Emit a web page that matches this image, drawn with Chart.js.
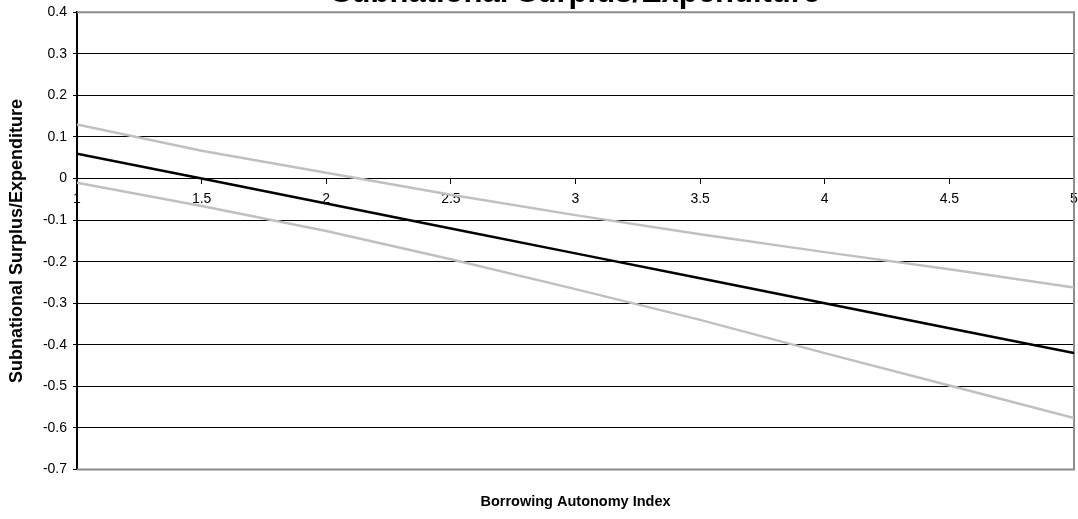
<!DOCTYPE html>
<html>
<head>
<meta charset="utf-8">
<script src="https://cdn.jsdelivr.net/npm/chart.js@4/dist/chart.umd.min.js"></script>
<style>
  html, body { margin: 0; padding: 0; background: #ffffff; }
  #wrap { width: 1078px; height: 519px; position: relative; }
</style>
</head>
<body>
<div id="wrap"><canvas id="c" width="1078" height="519"></canvas></div>
<script>
// Borrowing autonomy index (x) and the fitted surplus/expenditure line with its band
const autonomyIndex  = [1, 1.5, 2, 2.5, 3, 3.5, 4, 4.5, 5];
const fittedSurplus  = [0.06, 0.0, -0.06, -0.12, -0.18, -0.24, -0.30, -0.36, -0.42];
const upperBand      = [0.13, 0.067, 0.014, -0.039, -0.088, -0.134, -0.177, -0.218, -0.262];
const lowerBand      = [-0.01, -0.066, -0.126, -0.194, -0.266, -0.340, -0.420, -0.498, -0.576];

const yTickValues = [0.4, 0.3, 0.2, 0.1, 0, -0.1, -0.2, -0.3, -0.4, -0.5, -0.6, -0.7];
const xTickValues = [1, 1.5, 2, 2.5, 3, 3.5, 4, 4.5, 5];

const chartTitle = 'Subnational Surplus/Expenditure';
const xTitle = 'Borrowing Autonomy Index';
const yTitle = 'Subnational Surplus/Expenditure';

const FONT = "'Liberation Sans', Arial, sans-serif";

function toPoints(ys) {
  return autonomyIndex.map((x, i) => ({ x: x, y: ys[i] }));
}

// Gray frame around the plotting area (top, right, bottom)
const frame = {
  id: 'frame',
  beforeDatasetsDraw(chart) {
    const a = chart.chartArea, ctx = chart.ctx;
    ctx.save();
    ctx.strokeStyle = '#8c8c8c';
    ctx.lineWidth = 2;
    ctx.beginPath();
    ctx.moveTo(a.left, a.top);
    ctx.lineTo(a.right, a.top);
    ctx.lineTo(a.right, a.bottom);
    ctx.lineTo(a.left, a.bottom);
    ctx.stroke();
    ctx.restore();
  }
};

new Chart(document.getElementById('c'), {
  type: 'scatter',
  data: {
    datasets: [
      { label: 'Upper', data: toPoints(upperBand), showLine: true, borderColor: '#c0c0c0', borderWidth: 2.5, pointRadius: 0, order: 2 },
      { label: 'Lower', data: toPoints(lowerBand), showLine: true, borderColor: '#c0c0c0', borderWidth: 2.5, pointRadius: 0, order: 2 },
      { label: 'Fit',   data: toPoints(fittedSurplus), showLine: true, borderColor: '#000000', borderWidth: 2.5, pointRadius: 0, order: 1 }
    ]
  },
  options: {
    responsive: false,
    animation: false,
    layout: { padding: { top: 0, right: 4, left: 0, bottom: 0 } },
    plugins: {
      legend: { display: false },
      tooltip: { enabled: false },
      title: {
        display: true,
        fullSize: false,
        text: chartTitle,
        color: '#000000',
        font: { family: FONT, size: 31, weight: 'bold', lineHeight: 1.2 },
        padding: { top: -24.8, bottom: -0.1 }
      }
    },
    scales: {
      x: {
        type: 'linear',
        position: { y: 0 },
        min: 1, max: 5,
        afterBuildTicks(s) { s.ticks = xTickValues.map(v => ({ value: v })); },
        afterFit(s) { s.paddingLeft = 0; s.paddingRight = 0; },
        ticks: {
          color: '#000000',
          font: { family: FONT, size: 14 },
          padding: 7,
          maxRotation: 0,
          autoSkip: false,
          callback: v => String(v)
        },
        grid: { drawOnChartArea: false, drawTicks: true, tickLength: 5, color: '#000000' },
        border: { display: true, color: '#000000', width: 1 }
      },
      xTitleAxis: {
        type: 'linear',
        axis: 'x',
        position: 'bottom',
        min: 1, max: 5,
        ticks: { display: false },
        grid: { display: false },
        border: { display: false },
        title: {
          display: true,
          text: xTitle,
          color: '#000000',
          font: { family: FONT, size: 14.5, weight: 'bold', lineHeight: 1.2 },
          padding: { top: 0, bottom: 8.3 }
        },
        afterFit(s) { s.height = 49.5; s.paddingLeft = 0; s.paddingRight = 0; }
      },
      y: {
        type: 'linear',
        position: 'left',
        min: -0.7, max: 0.4,
        afterBuildTicks(s) { s.ticks = yTickValues.map(v => ({ value: v })); },
        ticks: {
          color: '#000000',
          font: { family: FONT, size: 14 },
          padding: 6,
          callback: v => String(Math.round(v * 10) / 10)
        },
        grid: {
          color: ctx => (ctx.tick && (ctx.tick.value === 0.4 || ctx.tick.value === -0.7)) ? '#8c8c8c' : '#000000',
          lineWidth: 1,
          drawTicks: true,
          tickLength: 4,
          tickColor: '#000000'
        },
        border: { display: true, color: '#000000', width: 2 },
        title: {
          display: true,
          text: yTitle,
          color: '#000000',
          font: { family: FONT, size: 18, weight: 'bold', lineHeight: 1.2 },
          padding: { top: 6, bottom: 0 }
        },
        afterFit(s) { s.width = 77; s.paddingTop = 0; s.paddingBottom = 0; }
      }
    }
  },
  plugins: [frame]
});
</script>
</body>
</html>
